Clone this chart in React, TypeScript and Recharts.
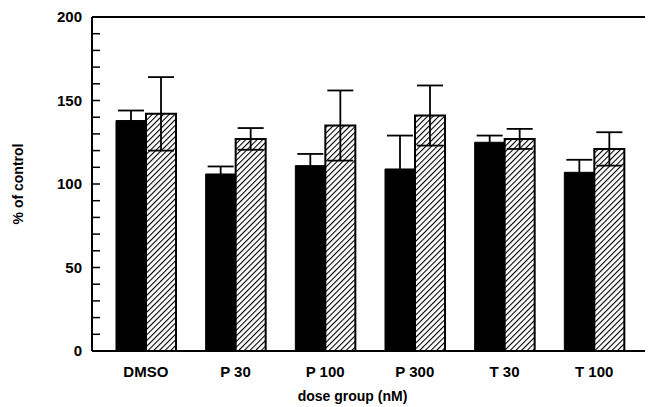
import React from "react"
import {
 BarChart,
 Bar,
 XAxis,
 YAxis,
 ErrorBar,
 ReferenceLine
} from "recharts"

const categories = ["DMSO", "P 30", "P 100", "P 300", "T 30", "T 100"]
const solidValues = [138, 106, 111, 109, 125, 107]
const solidErrors = [6, 4.5, 7, 20, 4, 7.5]
const hatchedValues = [142, 127, 135, 141, 127, 121]
const hatchedErrors = [22, 6.5, 21, 18, 6, 10]
const yTicks = [0, 10, 20, 30, 40, 50, 60, 70, 80, 90, 100, 110, 120, 130, 140, 150, 160, 170, 180, 190, 200]

const data = categories.map((name, i) => ({
 name,
 solid: solidValues[i],
 solidErr: solidErrors[i],
 hatched: hatchedValues[i],
 hatchedErr: hatchedErrors[i]
}))

const font = "'Liberation Sans', Arial, sans-serif"

export default function App(){

 return(

  <div style={{position:"absolute", left:0, top:0, width:652, height:407, background:"#fff"}}>

   <BarChart
    width={652}
    height={407}
    data={data}
    margin={{top:17, right:7, left:0, bottom:0}}
    barGap={0}
    barSize={30}
   >

    <defs>
     <pattern id="hatch" patternUnits="userSpaceOnUse" width={4} height={4} patternTransform="rotate(45)">
      <rect width={4} height={4} fill="#fff" />
      <line x1={0} y1={0} x2={0} y2={4} stroke="#000" strokeWidth={2.2} />
     </pattern>
    </defs>

    <XAxis
     dataKey="name"
     height={56}
     padding={{left:9, right:6}}
     tickLine={false}
     axisLine={{stroke:"#000", strokeWidth:2}}
     tickMargin={9}
     tick={{fill:"#000", fontSize:15, fontWeight:700, fontFamily:font}}
     label={{value:"dose group (nM)", position:"insideBottom", offset:6, dx:-16, fill:"#000", fontSize:14, fontWeight:700, fontFamily:font}}
    />

    <YAxis
     width={92}
     domain={[0, 200]}
     ticks={yTicks}
     interval={0}
     tickSize={-8}
     tickMargin={18}
     tickFormatter={(v:number) => v % 50 === 0 ? String(v) : ""}
     tickLine={{stroke:"#000", strokeWidth:1.5}}
     axisLine={{stroke:"#000", strokeWidth:2}}
     tick={{fill:"#000", fontSize:15, fontWeight:700, fontFamily:font}}
     label={{value:"% of control", angle:-90, position:"insideLeft", offset:18, style:{textAnchor:"middle"}, fill:"#000", fontSize:14, fontWeight:700, fontFamily:font}}
    />

    <ReferenceLine y={200} stroke="#000" strokeWidth={2} />

    <Bar dataKey="solid" fill="#000" stroke="#000" strokeWidth={1} isAnimationActive={false}>
     <ErrorBar dataKey="solidErr" width={13} stroke="#000" strokeWidth={1.8} />
    </Bar>

    <Bar dataKey="hatched" fill="url(#hatch)" stroke="#000" strokeWidth={2} isAnimationActive={false}>
     <ErrorBar dataKey="hatchedErr" width={13} stroke="#000" strokeWidth={1.8} />
    </Bar>

   </BarChart>

  </div>

 )

}
